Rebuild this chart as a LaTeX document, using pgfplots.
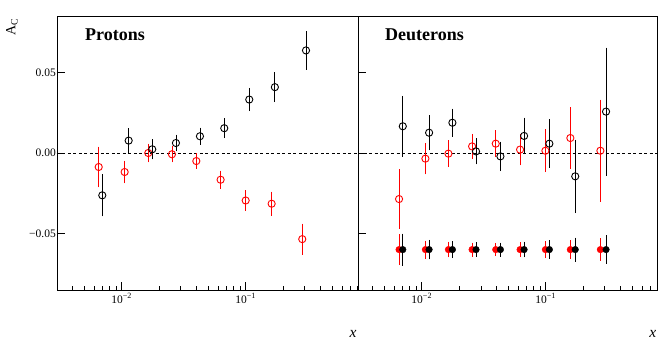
\documentclass[border=0pt]{standalone}
\usepackage{pgfplots}
\pgfplotsset{compat=1.18}
\usepackage{pgfplotstable}
\usepackage{fontspec}
\setmainfont{Liberation Serif}

\pgfplotstableread{
x y e
0.00698 -0.0263 0.0123
0.01139 0.0077 0.0068
0.01765 0.0023 0.0054
0.0274 0.0062 0.0044
0.0428 0.0104 0.0045
0.0672 0.0154 0.0054
0.1069 0.0332 0.0064
0.172 0.0409 0.0085
0.3066 0.0637 0.0112
}\pblack
\pgfplotstableread{
x y e
0.00653 -0.0087 0.0119
0.01057 -0.0118 0.0063
0.01639 0.0000 0.0050
0.02545 -0.0008 0.0042
0.0400 -0.0050 0.0040
0.0628 -0.0166 0.0048
0.1000 -0.0295 0.0057
0.162 -0.0315 0.0067
0.286 -0.0535 0.0088
}\pred
\pgfplotstableread{
x y e
0.00703 0.0166 0.0180
0.01146 0.0126 0.0101
0.01767 0.0188 0.0080
0.0274 0.0010 0.0072
0.0431 -0.0021 0.0083
0.0669 0.0106 0.0105
0.107 0.0058 0.0143
0.173 -0.0145 0.0220
0.3066 0.0257 0.0390
}\dblack
\pgfplotstableread{
x y e
0.00656 -0.0286 0.0176
0.01070 -0.0035 0.0090
0.01641 -0.0004 0.0075
0.02547 0.0041 0.0070
0.03952 0.0058 0.0076
0.0621 0.0021 0.0090
0.0994 0.0014 0.0124
0.158 0.0093 0.0184
0.276 0.0014 0.0310
}\dred
\pgfplotstableread{
x y e
0.00703 -0.0600 0.0091
0.01146 -0.0600 0.0052
0.01767 -0.0600 0.0045
0.0274 -0.0600 0.0036
0.0431 -0.0600 0.0035
0.0669 -0.0600 0.0041
0.107 -0.0600 0.0050
0.173 -0.0600 0.0067
0.3066 -0.0600 0.0081
}\dblackf
\pgfplotstableread{
x y e
0.00656 -0.0600 0.0088
0.01070 -0.0600 0.0048
0.01641 -0.0600 0.0041
0.02547 -0.0600 0.0035
0.03952 -0.0600 0.0033
0.0621 -0.0600 0.0038
0.0994 -0.0600 0.0043
0.158 -0.0600 0.0050
0.276 -0.0600 0.0062
}\dredf

\begin{document}
\begin{tikzpicture}
\path[use as bounding box] (0pt,0pt) rectangle (664pt,346pt);

\begin{axis}[xmode=log, scale only axis, height=274pt, width=301pt,
    at={(57pt,56pt)}, anchor=south west,
    xmin=0.00301, xmax=0.805,
    ymin=-0.0851, ymax=0.0851,
    scaled y ticks=false,
    tick align=inside, xtick pos=bottom, ytick pos=left,
    xtick={0.01,0.1},
    minor xtick={0.003,0.004,0.005,0.006,0.007,0.008,0.009,0.02,0.03,0.04,0.05,0.06,0.07,0.08,0.09,0.2,0.3,0.4,0.5,0.6,0.7,0.8},
    ytick={-0.05,0,0.05},
    major tick length=8pt, minor tick length=4pt,
    every tick/.style={black, line width=0.8pt},
    axis line style={line width=0.9pt},
    tick label style={font=\fontsize{11.5}{12}\selectfont},
    yticklabel style={inner sep=1pt},
    xticklabels={10\textsuperscript{−2},10\textsuperscript{−1}},
    yticklabels={−0.05,0.00,0.05}]
\addplot[black, dash pattern=on 3pt off 2.5pt, line width=0.8pt, forget plot] coordinates {(0.00301,0) (0.805,0)};
\addplot[red, only marks, mark=o, mark size=3.6pt,
    mark options={fill=white, line width=0.9pt},
    error bars/.cd, y dir=both, y explicit,
    error bar style={line width=0.8pt, red},
    error mark options={mark size=1.3pt, line width=0.8pt, red}]
    table[x=x,y=y,y error=e] {\pred};
\addplot[black, only marks, mark=o, mark size=3.6pt,
    mark options={fill=white, line width=0.9pt},
    error bars/.cd, y dir=both, y explicit,
    error bar style={line width=0.8pt, black},
    error mark options={mark size=1.3pt, line width=0.8pt, black}]
    table[x=x,y=y,y error=e] {\pblack};
\end{axis}

\begin{axis}[xmode=log, scale only axis, height=274pt, width=299pt,
    at={(358pt,56pt)}, anchor=south west,
    xmin=0.00306, xmax=0.790,
    ymin=-0.0851, ymax=0.0851,
    scaled y ticks=false,
    tick align=inside, xtick pos=bottom, ytick pos=left,
    xtick={0.01,0.1},
    minor xtick={0.004,0.005,0.006,0.007,0.008,0.009,0.02,0.03,0.04,0.05,0.06,0.07,0.08,0.09,0.2,0.3,0.4,0.5,0.6,0.7},
    ytick={-0.05,0,0.05},
    major tick length=8pt, minor tick length=4pt,
    every tick/.style={black, line width=0.8pt},
    axis line style={line width=0.9pt},
    tick label style={font=\fontsize{11.5}{12}\selectfont},
    xticklabels={10\textsuperscript{−2},10\textsuperscript{−1}},
    yticklabels={}]
\addplot[black, dash pattern=on 3pt off 2.5pt, line width=0.8pt, forget plot] coordinates {(0.00306,0) (0.790,0)};
\addplot[red, only marks, mark=o, mark size=3.6pt,
    mark options={fill=white, line width=0.9pt},
    error bars/.cd, y dir=both, y explicit,
    error bar style={line width=0.8pt, red},
    error mark options={mark size=1.3pt, line width=0.8pt, red}]
    table[x=x,y=y,y error=e] {\dred};
\addplot[black, only marks, mark=o, mark size=3.6pt,
    mark options={fill=white, line width=0.9pt},
    error bars/.cd, y dir=both, y explicit,
    error bar style={line width=0.8pt, black},
    error mark options={mark size=1.3pt, line width=0.8pt, black}]
    table[x=x,y=y,y error=e] {\dblack};
\addplot[red, only marks, mark=*, mark size=3.3pt,
    error bars/.cd, y dir=both, y explicit,
    error bar style={line width=0.8pt, red},
    error mark options={mark size=1.3pt, line width=0.8pt, red}]
    table[x=x,y=y,y error=e] {\dredf};
\addplot[black, only marks, mark=*, mark size=3.3pt,
    error bars/.cd, y dir=both, y explicit,
    error bar style={line width=0.8pt, black},
    error mark options={mark size=1.3pt, line width=0.8pt, black}]
    table[x=x,y=y,y error=e] {\dblackf};
\end{axis}

\node[anchor=base west, inner sep=0pt] at (85pt,305.3pt) {\fontsize{18}{18}\selectfont\bfseries Protons};
\node[anchor=base west, inner sep=0pt] at (385pt,305.3pt) {\fontsize{18}{18}\selectfont\bfseries Deuterons};
\node[rotate=90, anchor=east, inner sep=0pt] at (12pt,328pt) {\fontsize{14}{14}\selectfont A\textsubscript{C}};
\node[anchor=base, inner sep=0pt] at (353pt,8.7pt) {\fontsize{15.5}{16}\selectfont\itshape x};
\node[anchor=base, inner sep=0pt] at (652.7pt,8.7pt) {\fontsize{15.5}{16}\selectfont\itshape x};
\end{tikzpicture}
\end{document}
